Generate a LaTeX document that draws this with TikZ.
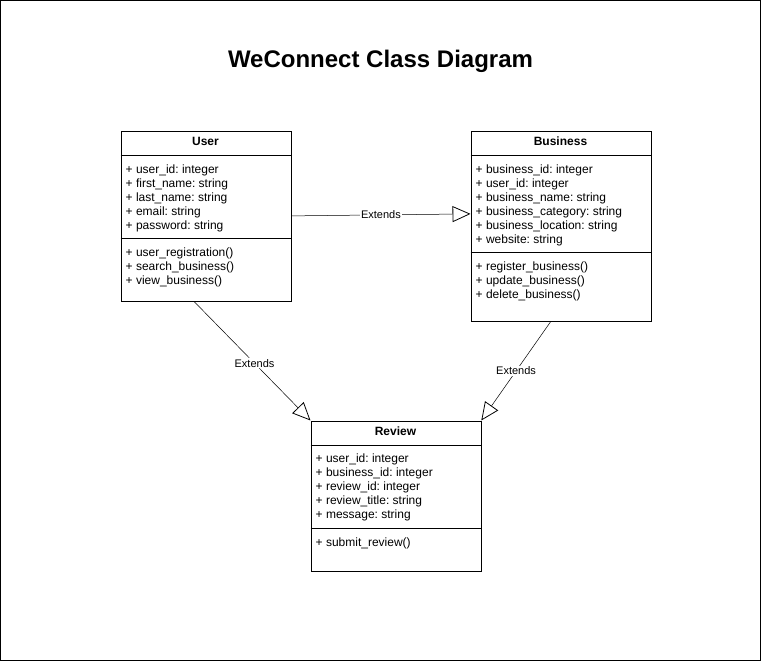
\documentclass[tikz,border=0pt]{standalone}
\usepackage{fontspec}
\setmainfont{Liberation Sans}
\usetikzlibrary{arrows.meta, positioning}
\frenchspacing

\begin{document}
\begin{tikzpicture}[x=1pt, y=-1pt,
        classbox/.style={rectangle, draw, line width=0.8pt, anchor=north west, inner sep=0pt},
        classname/.style={font=\fontsize{12}{14}\selectfont\bfseries},
        members/.style={anchor=north west, inner sep=0pt, align=left, font=\fontsize{12}{14}\selectfont},
        extends/.style={draw, line width=0.5pt, -{Triangle[open, length=18pt, width=16pt, line width=0.8pt]}},
        extlabel/.style={fill=white, inner sep=1pt, font=\fontsize{11}{13}\selectfont}
    ]
        \useasboundingbox (-0.5,-0.5) rectangle (760.5,660.5);
        \draw[line width=1pt] (0,0) rectangle (760,660);

        \node[font=\fontsize{24}{28}\selectfont\bfseries] (title) at (380,61) {WeConnect Class Diagram};

        % User
        \node[classbox, minimum width=170pt, minimum height=170pt] (user) at (120,130) {};
        \node[classname] (user-name) at (205,141) {User};
        \draw ([yshift=-25pt]user.north west) -- ([yshift=-25pt]user.north east);
        \node[members] (user-attr) at (125,163) {\strut+ user\_id: integer\\+ first\_name: string\\+ last\_name: string\\+ email: string\\+ password: string};
        \draw ([yshift=-108pt]user.north west) -- ([yshift=-108pt]user.north east);
        \node[members] (user-ops) at (125,246) {\strut+ user\_registration()\\+ search\_business()\\+ view\_business()};

        % Business
        \node[classbox, minimum width=180pt, minimum height=190pt] (business) at (470,130) {};
        \node[classname] (business-name) at (560,141) {Business};
        \draw ([yshift=-25pt]business.north west) -- ([yshift=-25pt]business.north east);
        \node[members] (business-attr) at (475,163) {\strut+ business\_id: integer\\+ user\_id: integer\\+ business\_name: string\\+ business\_category: string\\+ business\_location: string\\+ website: string};
        \draw ([yshift=-122pt]business.north west) -- ([yshift=-122pt]business.north east);
        \node[members] (business-ops) at (475,260) {\strut+ register\_business()\\+ update\_business()\\+ delete\_business()};

        % Review
        \node[classbox, minimum width=170pt, minimum height=150pt] (review) at (310,420) {};
        \node[classname] (review-name) at (395,431) {Review};
        \draw ([yshift=-25pt]review.north west) -- ([yshift=-25pt]review.north east);
        \node[members] (review-attr) at (315,452) {\strut+ user\_id: integer\\+ business\_id: integer\\+ review\_id: integer\\+ review\_title: string\\+ message: string};
        \draw ([yshift=-108pt]review.north west) -- ([yshift=-108pt]review.north east);
        \node[members] (review-ops) at (315,536) {\strut+ submit\_review()};

        % generalisations
        \draw[extends] (user.east) -- node[extlabel] {Extends} ([yshift=12pt]business.west);
        \draw[extends] ([xshift=-12pt]user.south) -- node[extlabel, pos=0.52] {Extends} (review.north west);
        \draw[extends] ([xshift=-10pt]business.south) -- node[extlabel] {Extends} (review.north east);
    \end{tikzpicture}
\end{document}
